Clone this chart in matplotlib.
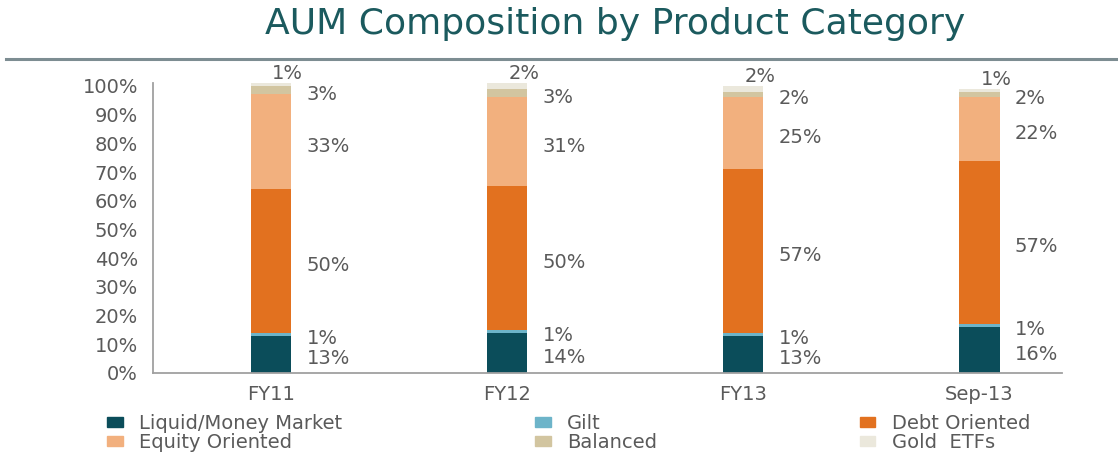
import matplotlib
matplotlib.use('Agg')
import matplotlib.pyplot as plt
from matplotlib.patches import Patch
from matplotlib.lines import Line2D
import numpy as np

plt.rcParams['font.family'] = ['DejaVu Sans']

periods = ['FY11', 'FY12', 'FY13', 'Sep-13']
series = ['Liquid/Money Market', 'Gilt', 'Debt Oriented', 'Equity Oriented', 'Balanced', 'Gold  ETFs']
liquid = [13, 14, 13, 16]
gilt = [1, 1, 1, 1]
debt = [50, 50, 57, 57]
equity = [33, 31, 25, 22]
balanced = [3, 3, 2, 2]
gold = [1, 2, 2, 1]
colors = ['#0b4d5a', '#6db4c9', '#e2711f', '#f2b07e', '#d2c5a0', '#ebe8dc']

values = [liquid, gilt, debt, equity, balanced, gold]
text_color = '#5a5a5a'
fs = 14

fig = plt.figure(figsize=(11.18, 4.66), dpi=100)
ax = fig.add_axes([0.137, 0.1996, 0.813, 0.6223])

x = np.arange(len(periods))
bw = 0.17
bottom = np.zeros(len(periods))
for vals, col, name in zip(values, colors, series):
    ax.bar(x, vals, bw, bottom=bottom, color=col, label=name, linewidth=0)
    for i, v in enumerate(vals):
        if name == 'Gold  ETFs':
            # top slice label sits above the bar
            ax.text(x[i] + 0.07, bottom[i] + v + 3.2, f'{v}%', ha='center', va='center',
                    fontsize=fs, color=text_color)
        else:
            ax.text(x[i] + 0.15, bottom[i] + v / 2 - 1.5, f'{v}%', ha='left', va='center',
                    fontsize=fs, color=text_color)
    bottom += np.array(vals)

ax.set_xlim(-0.5, 3.35)
ax.set_ylim(0, 101)
ax.set_yticks(range(0, 101, 10))
ax.set_yticklabels([f'{t}%' for t in range(0, 101, 10)])
ax.set_xticks(x)
ax.set_xticklabels(periods)
ax.tick_params(length=0, labelsize=fs, labelcolor=text_color)
ax.tick_params(axis='y', pad=11)
ax.tick_params(axis='x', pad=9)
for s in ['top', 'right']:
    ax.spines[s].set_visible(False)
for s in ['left', 'bottom']:
    ax.spines[s].set_color('#a0a0a0')
    ax.spines[s].set_linewidth(1.3)

fig.text(0.55, 0.948, 'AUM Composition by Product Category', ha='center', va='center',
         fontsize=26, color='#1b5a5e')
fig.add_artist(Line2D([0.005, 1.0], [0.873, 0.873], transform=fig.transFigure,
                      color='#7d8d92', linewidth=2.2))

handles = [Patch(color=c, label=n) for c, n in zip(colors, series)]
leg_x = [0.0957, 0.4785, 0.769]
for k in range(3):
    lg = fig.legend(handles=[handles[k], handles[k + 3]], loc='upper left',
                    bbox_to_anchor=(leg_x[k], 0.1116), frameon=False, ncol=1,
                    handlelength=0.8, handleheight=0.45, handletextpad=0.85,
                    labelspacing=0.0, borderpad=0, borderaxespad=0, prop={'size': fs})
    for t in lg.get_texts():
        t.set_color(text_color)

fig.savefig('out.png', dpi=100, facecolor='white')
